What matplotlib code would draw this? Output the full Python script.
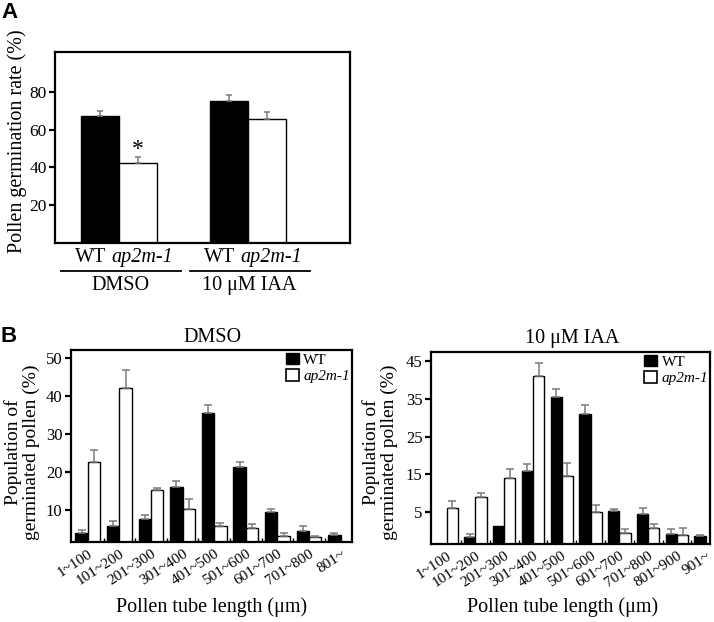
"""
Pollen germination of WT vs ap2m-1 (DMSO / IAA) and pollen tube length
distribution, two-panel figure.
"""

import numpy as np
import matplotlib

matplotlib.use("Agg")

import matplotlib.pyplot as plt
import matplotlib.transforms as mtransforms
from matplotlib.patches import Patch

plt.rcParams["font.family"] = ["Liberation Serif", "DejaVu Serif"]

###########################################################################
# Data
###########################################################################

treatments = ["DMSO", "10 μM IAA"]
genotypes = ["WT", "ap2m-1"]

germ_wt = [67.0, 74.9]
germ_wt_err = [3.0, 3.5]
germ_mut = [42.3, 65.5]
germ_mut_err = [3.2, 3.7]

dmso_bins = ["1~100", "101~200", "201~300", "301~400", "401~500",
             "501~600", "601~700", "701~800", "801~"]
dmso_wt = [4.1, 5.9, 7.8, 16.2, 35.7, 21.3, 9.6, 4.5, 3.5]
dmso_wt_err = [0.6, 1.3, 1.0, 1.6, 2.0, 1.3, 0.6, 1.4, 0.4]
dmso_mut = [22.6, 42.3, 15.3, 10.2, 5.9, 5.3, 3.1, 2.9, np.nan]
dmso_mut_err = [3.3, 4.7, 0.6, 2.7, 0.8, 1.0, 0.8, 0.4, np.nan]

iaa_bins = ["1~100", "101~200", "201~300", "301~400", "401~500",
            "501~600", "601~700", "701~800", "801~900", "901~"]
iaa_wt = [np.nan, -1.8, 1.2, 15.8, 35.5, 30.9, 5.2, 4.5, -0.9, -1.6]
iaa_wt_err = [np.nan, 0.9, np.nan, 1.9, 2.2, 2.5, 0.4, 1.4, 1.3, 0.5]
iaa_mut = [6.0, 9.0, 13.9, 41.2, 14.5, 4.8, -0.6, 0.6, -1.2, np.nan]
iaa_mut_err = [1.9, 1.0, 2.6, 3.5, 3.5, 1.9, 0.9, 1.0, 1.8, np.nan]

###########################################################################
# Layout helpers
###########################################################################

W, H = 714, 622

ERR_COLOR = "#7a7a7a"


def add_axes_px(fig, left, top, right, bottom):
    return fig.add_axes(
        [left / W, 1 - bottom / H, (right - left) / W, (bottom - top) / H]
    )


def style_box(ax):
    for spine in ax.spines.values():
        spine.set_linewidth(1.6)
    ax.tick_params(
        axis="y",
        direction="out",
        length=4,
        width=1.6,
        labelsize=12.5,
        pad=2,
    )


def paired_bars(ax, x, width, wt, wt_err, mut, mut_err, floor, capsize):
    wt = np.asarray(wt, dtype=float)
    mut = np.asarray(mut, dtype=float)
    wt_err = np.asarray(wt_err, dtype=float)
    mut_err = np.asarray(mut_err, dtype=float)

    ax.bar(x - width, wt - floor, width, bottom=floor, align="edge",
           color="black", edgecolor="black", linewidth=1, zorder=2)
    ax.bar(x, mut - floor, width, bottom=floor, align="edge",
           color="white", edgecolor="black", linewidth=1, zorder=2)

    for xc, vals, errs in ((x - width / 2, wt, wt_err),
                           (x + width / 2, mut, mut_err)):
        ok = ~np.isnan(vals) & ~np.isnan(errs)
        ax.errorbar(
            xc[ok], vals[ok],
            yerr=[np.zeros(ok.sum()), errs[ok]],
            fmt="none", ecolor=ERR_COLOR, elinewidth=1.1,
            capsize=capsize, capthick=1.1, zorder=3,
        )


###########################################################################
# Figure
###########################################################################

fig = plt.figure(figsize=(W / 100, H / 100), dpi=100)

fig.text(1 / W, 1 - 12 / H, "A", family="Liberation Sans", weight="bold",
         fontsize=16, va="center", ha="left")
fig.text(1 / W, 1 - 337 / H, "B", family="Liberation Sans", weight="bold",
         fontsize=16, va="center", ha="left")

# ---- Panel A -------------------------------------------------------------

axA = add_axes_px(fig, 55, 52, 350, 243)

gx = np.arange(len(treatments), dtype=float)
wA = 0.295

paired_bars(axA, gx, wA, germ_wt, germ_wt_err, germ_mut, germ_mut_err,
            floor=0, capsize=2.5)

axA.set_xlim(-0.496, 1.791)
axA.set_ylim(0, 101)
axA.set_yticks([20, 40, 60, 80])
axA.set_xticks([])
style_box(axA)

axA.annotate(
    "*",
    xy=(gx[0] + wA / 2, germ_mut[0] + germ_mut_err[0]),
    xytext=(0, -2),
    textcoords="offset points",
    ha="center",
    va="bottom",
    fontsize=17,
)

trA = axA.get_xaxis_transform()

for xc, name in zip(gx, treatments):
    axA.text(xc - 0.1, -0.075, genotypes[0], transform=trA,
             ha="right", va="center", fontsize=14.5)
    axA.text(xc - 0.055, -0.075, genotypes[1], transform=trA,
             ha="left", va="center", fontsize=14.5, style="italic")
    axA.plot([xc - 0.45, xc + 0.48], [-0.147, -0.147], transform=trA,
             color="black", linewidth=1.3, clip_on=False)
    axA.text(xc + 0.01, -0.225, name, transform=trA,
             ha="center", va="center", fontsize=14.5)

fig.text(17 / W, 1 - 141 / H, "Pollen germination rate (%)",
         rotation=90, ha="center", va="center", fontsize=14.5)

# ---- Panel B -------------------------------------------------------------

label_shift = mtransforms.ScaledTranslation(4 / 100, 0, fig.dpi_scale_trans)


def distribution(ax, bins, wt, wt_err, mut, mut_err, ylim, yticks,
                 xlim, title, title_x):
    x = np.arange(len(bins), dtype=float)
    width = 0.39

    paired_bars(ax, x, width, wt, wt_err, mut, mut_err,
                floor=ylim[0], capsize=2.8)

    ax.set_xlim(*xlim)
    ax.set_ylim(*ylim)
    ax.set_yticks(yticks)
    style_box(ax)
    ax.tick_params(axis="y", labelsize=12)

    ax.set_xticks(x)
    ax.set_xticklabels(bins, rotation=33, ha="right", va="top",
                       rotation_mode="anchor", fontsize=11)
    for lab in ax.get_xticklabels():
        lab.set_transform(lab.get_transform() + label_shift)
    ax.tick_params(axis="x", length=0, pad=4)
    ax.set_xticks(x[:-1] + 0.5, minor=True)
    ax.tick_params(axis="x", which="minor", direction="in",
                   length=3, width=1)

    leg = ax.legend(
        handles=[
            Patch(facecolor="black", edgecolor="black", linewidth=1),
            Patch(facecolor="white", edgecolor="black", linewidth=1.2),
        ],
        labels=genotypes,
        loc="upper left",
        bbox_to_anchor=(0.765, 0.985),
        frameon=False,
        fontsize=11,
        handlelength=0.85,
        handleheight=0.8,
        handletextpad=0.3,
        labelspacing=0.15,
        borderaxespad=0,
        borderpad=0,
    )
    leg.get_texts()[1].set_style("italic")

    fig.text(title_x / W, 1 - 338 / H, title, ha="center", va="center",
             fontsize=14.5)


axL = add_axes_px(fig, 70.7, 349.7, 352, 541.7)
distribution(axL, dmso_bins, dmso_wt, dmso_wt_err, dmso_mut, dmso_mut_err,
             ylim=(1.7, 52.3), yticks=[10, 20, 30, 40, 50],
             xlim=(-0.54, 8.36), title=treatments[0], title_x=212)

axR = add_axes_px(fig, 431, 351.7, 710, 544)
distribution(axR, iaa_bins, iaa_wt, iaa_wt_err, iaa_mut, iaa_mut_err,
             ylim=(-3.6, 47.6), yticks=[5, 15, 25, 35, 45],
             xlim=(-0.545, 9.15), title=treatments[1], title_x=572)

ylab = "Population of\ngerminated pollen (%)"
fig.text(22 / W, 1 - 452 / H, ylab, rotation=90, ha="center", va="center",
         fontsize=14, linespacing=1.0, multialignment="center")
fig.text(380 / W, 1 - 452 / H, ylab, rotation=90, ha="center", va="center",
         fontsize=14, linespacing=1.0, multialignment="center")

xlab = "Pollen tube length (μm)"
fig.text(212 / W, 1 - 607 / H, xlab, ha="center", va="center", fontsize=14.5)
fig.text(563 / W, 1 - 607 / H, xlab, ha="center", va="center", fontsize=14.5)

fig.savefig("out.png", dpi=100, facecolor="white")
